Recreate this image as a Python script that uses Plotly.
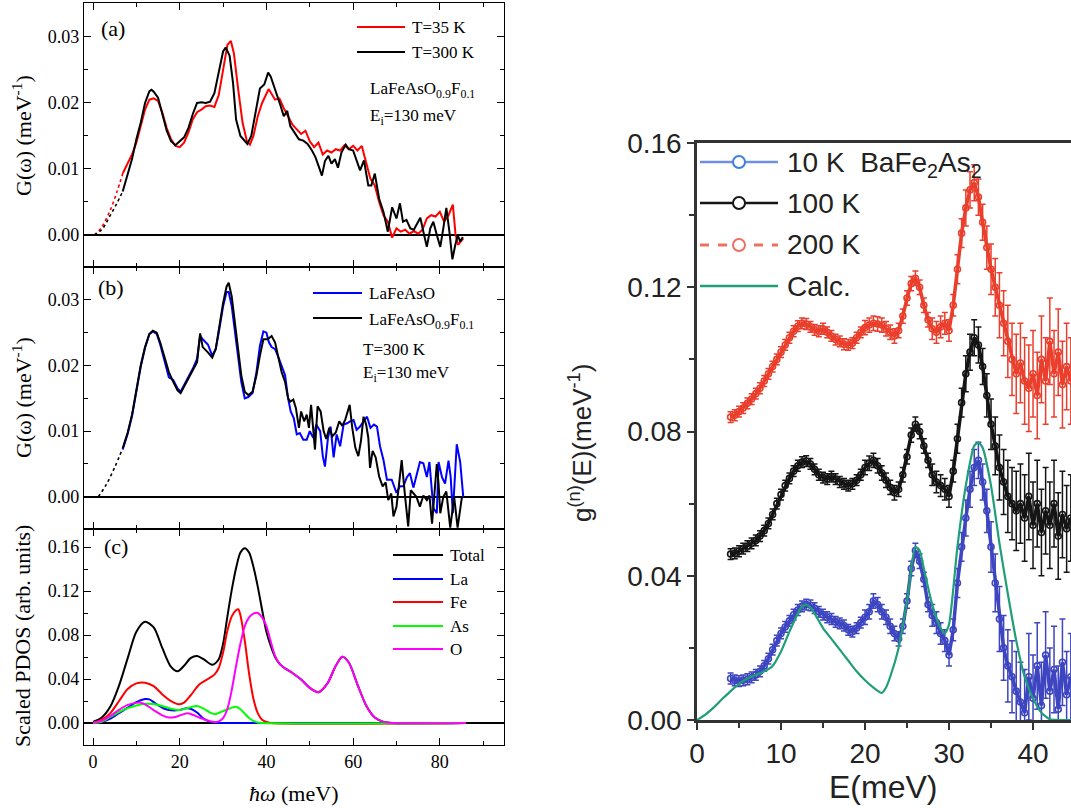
import plotly.graph_objects as go

W, H = 1071, 808
def px(x): return x / W
def py(y): return 1 - y / H

SERIF = "Liberation Serif, Times New Roman, serif"
SANS = "Liberation Sans, Arial, sans-serif"

# ---------------- Panel (a): LaFeAsO0.9F0.1, T=35 K vs T=300 K ----------------
A_35K = [(6.9, 0.0094), (8, 0.0110), (9, 0.0122), (10, 0.0140), (11, 0.0165), (12, 0.0190),
         (13, 0.0205), (14, 0.0207), (15, 0.0203), (16, 0.0185), (17, 0.0162), (18, 0.0145),
         (19, 0.0135), (20, 0.0133), (21, 0.0140), (22, 0.0155), (23, 0.0175), (24, 0.0186),
         (25, 0.0190), (26, 0.0195), (27, 0.0196), (28, 0.0194), (29, 0.0212), (30, 0.0250),
         (31, 0.0288), (31.8, 0.0294), (32.5, 0.0275), (33.5, 0.0220), (34.5, 0.0170),
         (35.5, 0.0142), (36.2, 0.0137), (37, 0.0150), (38, 0.0180), (39, 0.0200), (40, 0.0215),
         (40.5, 0.0221), (41, 0.0216), (42, 0.0205), (43, 0.0207), (44, 0.0192), (45, 0.0180),
         (46, 0.0167), (47, 0.0160), (48, 0.0153), (49, 0.0158), (50, 0.0142), (51, 0.0133),
         (52, 0.0140), (53, 0.0122), (54, 0.0128), (55, 0.0125), (56, 0.0130), (57, 0.0128),
         (58, 0.0136), (59, 0.0130), (60, 0.0135), (61, 0.0128), (62, 0.0135), (63, 0.0110),
         (64, 0.0085), (65, 0.0075), (66, 0.0050), (67, 0.0030), (68, 0.0020), (69, -0.0004),
         (70, 0.0010), (71, 0.0005), (72, 0.0008), (73, 0.0002), (74, 0.0006), (75, 0.0002),
         (76, 0.0008), (77, 0.0025), (78, 0.0030), (79, 0.0028), (80, 0.0035), (81, 0.0020),
         (82, 0.0030), (83, 0.0046), (83.6, 0.0002), (84.2, -0.0015), (85, -0.0008), (85.4, -0.0005)]
A_300K = [(6.85, 0.0066), (8, 0.0092), (9, 0.0115), (10, 0.0145), (11, 0.0170), (12, 0.0200),
          (13, 0.0218), (13.5, 0.0220), (14, 0.0217), (15, 0.0208), (16, 0.0185), (17, 0.0158),
          (18, 0.0142), (19, 0.0136), (20, 0.0142), (21, 0.0148), (22, 0.0162), (23, 0.0183),
          (24, 0.0200), (25, 0.0201), (26, 0.0200), (27, 0.0202), (28, 0.0215), (29, 0.0248),
          (30, 0.0278), (30.6, 0.0284), (31.5, 0.0272), (32.3, 0.0230), (33, 0.0175), (34, 0.0150),
          (35, 0.0142), (35.6, 0.0138), (36.5, 0.0150), (37.5, 0.0185), (38.5, 0.0222),
          (39.5, 0.0228), (40.4, 0.0246), (41, 0.0240), (41.8, 0.0225), (42.5, 0.0210),
          (43.3, 0.0195), (44, 0.0180), (44.8, 0.0188), (45.5, 0.0165), (46.5, 0.0155),
          (47.5, 0.0145), (48.5, 0.0143), (49.5, 0.0138), (50.5, 0.0128), (51.3, 0.0118),
          (52, 0.0105), (52.8, 0.0090), (53.5, 0.0112), (54.3, 0.0120), (55, 0.0108),
          (55.8, 0.0115), (56.5, 0.0102), (57.3, 0.0125), (58.3, 0.0137), (59, 0.0130),
          (60, 0.0128), (61, 0.0110), (61.6, 0.0098), (62.5, 0.0113), (63.5, 0.0075),
          (64.2, 0.0075), (65, 0.0093), (66, 0.0055), (67, 0.0035), (68, 0.0005), (69, 0.0042),
          (70, 0.0025), (70.8, 0.0048), (71.5, 0.0020), (72.3, 0.0023), (73.2, 0.0010),
          (74, 0.0008), (75, 0.0020), (75.5, 0.0026), (76.2, 0.0005), (77, -0.0018),
          (77.8, 0.0010), (78.5, 0.0020), (79.3, 0.0000), (80.1, -0.0018), (80.8, 0.0010),
          (81.5, 0.0041), (82.2, 0.0005), (82.9, -0.0037), (83.5, -0.0017), (84.1, 0.0000),
          (84.7, -0.0010), (85.3, -0.0003)]
A_35K_EXTRAP = [(0.3, 0.0), (2.0, 0.0012), (4.0, 0.0038), (5.5, 0.0065), (6.9, 0.0094)]
A_300K_EXTRAP = [(0.3, 0.0), (2.0, 0.0008), (4.0, 0.0030), (5.5, 0.0048), (6.85, 0.0066)]

# ---------------- Panel (b): LaFeAsO vs LaFeAsO0.9F0.1 at 300 K ----------------
B_PARENT = [(6.85, 0.0072), (8, 0.0096), (9, 0.0123), (10, 0.0163), (11, 0.0198), (12, 0.0227),
            (13, 0.0248), (13.8, 0.0252), (14.7, 0.0248), (15.5, 0.0232), (16.5, 0.0208),
            (17.5, 0.0182), (18.5, 0.0178), (19.5, 0.0165), (20.2, 0.0160), (21, 0.0170),
            (22, 0.0182), (23, 0.0195), (24, 0.0210), (24.7, 0.0245), (25.3, 0.0240),
            (26.5, 0.0232), (27.5, 0.0215), (28.3, 0.0225), (29, 0.0250), (30, 0.0290),
            (30.8, 0.0312), (31.3, 0.0312), (32, 0.0290), (32.8, 0.0245), (33.5, 0.0215),
            (34.2, 0.0175), (35, 0.0150), (35.8, 0.0152), (36.8, 0.0158), (37.7, 0.0190),
            (38.5, 0.0230), (39.3, 0.0252), (40, 0.0250), (40.6, 0.0235), (41.2, 0.0228),
            (42, 0.0225), (42.8, 0.0212), (43.5, 0.0200), (44.3, 0.0185), (45, 0.0150),
            (45.6, 0.0130), (46.3, 0.0120), (47, 0.0095), (47.7, 0.0097), (48.5, 0.0087),
            (49.3, 0.0087), (50, 0.0100), (50.8, 0.0090), (51.5, 0.0110), (52.4, 0.0100),
            (53, 0.0062), (53.5, 0.0046), (54.2, 0.0090), (54.8, 0.0107), (55.5, 0.0060),
            (56.2, 0.0095), (57, 0.0077), (57.8, 0.0110), (58.6, 0.0112), (59.3, 0.0115),
            (60.1, 0.0117), (60.8, 0.0102), (61.6, 0.0107), (62.4, 0.0115), (63.2, 0.0122),
            (64, 0.0105), (64.8, 0.0110), (65.5, 0.0107), (66.2, 0.0077), (67, 0.0056),
            (67.8, 0.0026), (68.9, 0.0026), (70, 0.0006), (70.8, 0.0016), (71.6, 0.0016),
            (72.4, 0.0030), (73.1, 0.0036), (73.9, 0.0014), (74.6, 0.0031), (75.4, 0.0053),
            (76.2, 0.0051), (77, 0.0030), (77.6, 0.0053), (78.5, -0.0017), (79.3, -0.0025),
            (79.7, 0.0053), (80.5, 0.0030), (81.2, 0.0020), (82, 0.0055), (82.5, 0.0030),
            (83, -0.0025), (83.9, 0.0080), (84.7, 0.0053), (85.4, 0.0000)]
B_DOPED = [(6.85, 0.0074), (8, 0.0098), (9, 0.0125), (10, 0.0165), (11, 0.0200), (12, 0.0228),
           (13, 0.0248), (13.8, 0.0253), (14.7, 0.0250), (15.5, 0.0235), (16.5, 0.0212),
           (17.5, 0.0190), (18.5, 0.0175), (19.5, 0.0162), (20.2, 0.0158), (21, 0.0168),
           (22, 0.0180), (23, 0.0192), (24, 0.0205), (24.7, 0.0249), (25.3, 0.0228),
           (26.5, 0.0220), (27.5, 0.0212), (28.3, 0.0225), (29, 0.0255), (30, 0.0295),
           (30.8, 0.0320), (31.3, 0.0326), (32, 0.0305), (32.8, 0.0260), (33.5, 0.0225),
           (34.2, 0.0185), (35, 0.0160), (35.8, 0.0155), (36.8, 0.0160), (37.7, 0.0185),
           (38.5, 0.0215), (39.3, 0.0240), (40.3, 0.0240), (41.2, 0.0245), (42, 0.0235),
           (42.8, 0.0210), (43.5, 0.0190), (44.3, 0.0175), (45, 0.0150), (45.5, 0.0145),
           (46.2, 0.0148), (46.8, 0.0135), (47.5, 0.0105), (48, 0.0130), (48.7, 0.0115),
           (49.3, 0.0125), (49.8, 0.0105), (50.3, 0.0140), (51.2, 0.0072), (51.8, 0.0138),
           (52.5, 0.0130), (53.2, 0.0100), (53.8, 0.0088), (54.5, 0.0105), (55.2, 0.0092),
           (56, 0.0098), (56.8, 0.0115), (57.5, 0.0108), (58.2, 0.0118), (59.2, 0.0140),
           (59.8, 0.0105), (60.5, 0.0075), (61.2, 0.0062), (61.8, 0.0085), (62.4, 0.0122),
           (63, 0.0110), (63.5, 0.0090), (63.9, 0.0044), (64.5, 0.0070), (65.2, 0.0060),
           (66, 0.0031), (66.8, 0.0016), (67.5, 0.0022), (68.1, -0.0005), (68.8, 0.0005),
           (69.3, -0.0030), (70, -0.0015), (70.6, 0.0020), (71.2, 0.0056), (71.9, 0.0006),
           (72.7, -0.0045), (73.3, 0.0010), (73.9, 0.0006), (74.6, 0.0000), (75.4, -0.0015),
           (76.2, 0.0002), (77, -0.0005), (77.6, 0.0002), (78.2, -0.0041), (78.8, 0.0006),
           (79.3, 0.0050), (79.7, 0.0020), (80.1, -0.0025), (80.8, 0.0000), (81.5, 0.0008),
           (82.4, -0.0047), (83.3, 0.0000), (84.1, -0.0047), (85.1, 0.0000)]
B_DOPED_EXTRAP = [(1.2, 0.0), (3.0, 0.0018), (5.0, 0.0045), (6.85, 0.0074)]

# ---------------- Panel (c): calculated partial DOS ----------------
C_TOTAL = [(0, 0.001), (2, 0.005), (4, 0.015), (6, 0.034), (8, 0.059), (10, 0.083), (12, 0.092),
           (14, 0.087), (16, 0.068), (18, 0.051), (19.5, 0.047), (21, 0.052), (22.5, 0.059),
           (24, 0.061), (25.5, 0.058), (27.5, 0.053), (29, 0.058), (30, 0.072), (31, 0.097),
           (32, 0.121), (33, 0.141), (34, 0.155), (35, 0.159), (36, 0.155), (37, 0.142),
           (38, 0.124), (39, 0.103), (40, 0.083), (41, 0.070), (42, 0.060), (43, 0.054),
           (44, 0.0505), (46, 0.0455), (48, 0.0395), (50, 0.032), (52, 0.028), (54, 0.0355),
           (56, 0.052), (57.5, 0.0603), (59, 0.055), (61, 0.035), (63, 0.016), (65, 0.005),
           (67, 0.001), (69, 0.0), (86, 0.0)]
C_LA = [(0, 0.0), (2, 0.001), (4, 0.004), (6, 0.009), (8, 0.014), (10, 0.019), (12, 0.0218),
        (13, 0.0215), (14.7, 0.017), (16.5, 0.013), (18, 0.0115), (20, 0.0118), (21.5, 0.0135),
        (22.5, 0.0130), (24, 0.0095), (25.5, 0.0040), (27, 0.0012), (28.5, 0.0002), (30, 0.0),
        (86, 0.0)]
C_FE = [(0, 0.0), (2, 0.003), (4, 0.009), (6, 0.020), (8, 0.031), (10, 0.036), (12, 0.0367),
        (14, 0.0335), (16, 0.026), (18, 0.020), (20, 0.017), (21, 0.0185), (22.5, 0.025),
        (24.5, 0.035), (26.5, 0.040), (28, 0.044), (29, 0.050), (30, 0.064), (31, 0.084),
        (32, 0.097), (33, 0.1025), (33.5, 0.1034), (34, 0.098), (35, 0.075), (36, 0.045),
        (37, 0.022), (38, 0.009), (39, 0.003), (40, 0.0009), (41, 0.0), (86, 0.0)]
C_AS = [(0, 0.0), (2, 0.001), (4, 0.0055), (6, 0.010), (8, 0.0135), (10, 0.016), (12, 0.0175),
        (14, 0.0172), (16, 0.0155), (18, 0.0130), (20, 0.0118), (22, 0.0138), (24, 0.0155),
        (25.5, 0.0130), (27, 0.0095), (28.2, 0.0082), (30, 0.0108), (32, 0.0140), (33, 0.0148),
        (34, 0.0125), (35, 0.0085), (36, 0.0045), (37, 0.0018), (38, 0.0005), (39, 0.0),
        (86, 0.0)]
C_O = [(0, 0.0), (2, 0.002), (4, 0.0065), (6, 0.012), (8, 0.0165), (10, 0.0183), (11, 0.0185),
       (12, 0.0170), (14, 0.0118), (16, 0.0070), (17.5, 0.0050), (19, 0.0055), (20.5, 0.0075),
       (21.8, 0.0088), (23, 0.0075), (24.5, 0.0050), (26, 0.0028), (28, 0.0010), (29, 0.0015),
       (30, 0.0045), (31, 0.0130), (32, 0.0300), (33, 0.0520), (34, 0.0720), (35, 0.0880),
       (36, 0.0960), (37, 0.0995), (38, 0.1000), (39, 0.0960), (40, 0.0880), (41, 0.0740),
       (42, 0.0610), (43, 0.0540), (44, 0.0505), (46, 0.0455), (48, 0.0395), (50, 0.0320),
       (52, 0.0280), (54, 0.0355), (56, 0.0520), (57.5, 0.0603), (59, 0.0550), (61, 0.0350),
       (63, 0.0160), (65, 0.0050), (67, 0.0010), (69, 0.0), (86, 0.0)]

# ---------------- Right panel: BaFe2As2 g(n)(E) ----------------
R_E = [4.0, 4.5, 5.0, 5.5, 6.0, 6.5, 7.0, 7.5, 8.0, 8.5,
       9.0, 9.5, 10.0, 10.5, 11.0, 11.5, 12.0, 12.5, 13.0, 13.5,
       14.0, 14.5, 15.0, 15.5, 16.0, 16.5, 17.0, 17.5, 18.0, 18.5,
       19.0, 19.5, 20.0, 20.5, 21.0, 21.5, 22.0, 22.5, 23.0, 23.5,
       24.0, 24.5, 25.0, 25.5, 26.0, 26.5, 27.0, 27.5, 28.0, 28.5,
       29.0, 29.5, 30.0, 30.5, 31.0, 31.5, 32.0, 32.5, 33.0, 33.5,
       34.0, 34.5, 35.0, 35.5, 36.0, 36.5, 37.0, 37.5, 38.0, 38.5,
       39.0, 39.5, 40.0, 40.5, 41.0, 41.5, 42.0, 42.5, 43.0, 43.5,
       44.0, 44.5]
R_10K = [0.0115, 0.0110, 0.0108, 0.0110, 0.0113, 0.0118, 0.0125, 0.0135, 0.0150, 0.0170,
         0.0195, 0.0220, 0.0240, 0.0258, 0.0275, 0.0292, 0.0305, 0.0315, 0.0320, 0.0318,
         0.0310, 0.0300, 0.0292, 0.0285, 0.0280, 0.0272, 0.0268, 0.0262, 0.0250, 0.0245,
         0.0255, 0.0270, 0.0285, 0.0300, 0.0330, 0.0320, 0.0300, 0.0285, 0.0260, 0.0240,
         0.0225, 0.0260, 0.0330, 0.0420, 0.0470, 0.0440, 0.0390, 0.0320, 0.0290, 0.0270,
         0.0240, 0.0220, 0.0180, 0.0250, 0.0380, 0.0480, 0.0560, 0.0640, 0.0700, 0.0720,
         0.0660, 0.0580, 0.0480, 0.0380, 0.0280, 0.0200, 0.0150, 0.0120, 0.0080, 0.0050,
         0.0020, 0.0120, 0.0060, 0.0150, 0.0040, 0.0180, 0.0080, 0.0140, 0.0030, 0.0160,
         0.0070, 0.0120]
R_100K = [0.0460, 0.0462, 0.0468, 0.0475, 0.0482, 0.0490, 0.0498, 0.0510, 0.0525, 0.0545,
          0.0570, 0.0600, 0.0625, 0.0650, 0.0670, 0.0690, 0.0705, 0.0715, 0.0718, 0.0710,
          0.0695, 0.0680, 0.0672, 0.0668, 0.0675, 0.0668, 0.0660, 0.0655, 0.0650, 0.0655,
          0.0665, 0.0680, 0.0700, 0.0712, 0.0720, 0.0705, 0.0685, 0.0665, 0.0645, 0.0630,
          0.0640, 0.0680, 0.0730, 0.0790, 0.0820, 0.0800, 0.0760, 0.0720, 0.0680, 0.0660,
          0.0650, 0.0640, 0.0620, 0.0690, 0.0780, 0.0880, 0.0960, 0.1020, 0.1060, 0.1040,
          0.0980, 0.0900, 0.0820, 0.0760, 0.0700, 0.0660, 0.0620, 0.0600, 0.0580, 0.0600,
          0.0560, 0.0620, 0.0540, 0.0600, 0.0520, 0.0580, 0.0540, 0.0600, 0.0510, 0.0570,
          0.0530, 0.0560]
R_200K = [0.0840, 0.0845, 0.0855, 0.0865, 0.0878, 0.0890, 0.0905, 0.0920, 0.0940, 0.0960,
          0.0980, 0.1000, 0.1020, 0.1040, 0.1060, 0.1078, 0.1092, 0.1100, 0.1098, 0.1090,
          0.1082, 0.1078, 0.1085, 0.1075, 0.1065, 0.1055, 0.1050, 0.1042, 0.1040, 0.1045,
          0.1060, 0.1075, 0.1088, 0.1095, 0.1100, 0.1098, 0.1095, 0.1085, 0.1075, 0.1065,
          0.1080, 0.1120, 0.1170, 0.1210, 0.1225, 0.1200, 0.1150, 0.1110, 0.1085, 0.1075,
          0.1090, 0.1100, 0.1080, 0.1150, 0.1250, 0.1350, 0.1420, 0.1470, 0.1490, 0.1450,
          0.1380, 0.1310, 0.1250, 0.1200, 0.1150, 0.1100, 0.1050, 0.1000, 0.0960, 0.0990,
          0.0940, 0.0920, 0.0960, 0.0900, 0.1000, 0.0940, 0.1050, 0.0960, 0.1020, 0.0930,
          0.0980, 0.0940]
R_ERR = [0.0015, 0.0015, 0.0015, 0.0015, 0.0015, 0.0015, 0.0015, 0.0015, 0.0015, 0.0015,
         0.0015, 0.0015, 0.0015, 0.0015, 0.0015, 0.0015, 0.0015, 0.0015, 0.0015, 0.0015,
         0.0015, 0.0015, 0.0015, 0.0015, 0.0015, 0.0015, 0.0015, 0.0015, 0.0015, 0.0015,
         0.0015, 0.0015, 0.002, 0.002, 0.002, 0.002, 0.002, 0.002, 0.002, 0.002,
         0.002, 0.002, 0.002, 0.002, 0.002, 0.002, 0.002, 0.002, 0.003, 0.003,
         0.003, 0.003, 0.003, 0.003, 0.004, 0.004, 0.005, 0.005, 0.005, 0.005,
         0.005, 0.006, 0.007, 0.008, 0.009, 0.009, 0.010, 0.010, 0.011, 0.011,
         0.012, 0.012, 0.012, 0.012, 0.012, 0.012, 0.012, 0.012, 0.012, 0.012,
         0.012, 0.012]
R_CALC = [(0, 0.0), (1, 0.0015), (2, 0.0035), (3, 0.0058), (4, 0.0080), (5, 0.0100), (6, 0.0115),
          (7, 0.0125), (8, 0.0135), (9, 0.0150), (10, 0.0190), (11, 0.0245), (12, 0.0295),
          (12.5, 0.0315), (13, 0.0320), (13.5, 0.0312), (14, 0.0295), (15, 0.0255), (16, 0.0225),
          (17, 0.0195), (18, 0.0165), (19, 0.0135), (20, 0.0110), (21, 0.0090), (22, 0.0075),
          (22.5, 0.0090), (23, 0.0120), (24, 0.0200), (25, 0.0330), (26, 0.0480), (26.5, 0.0470),
          (27, 0.0420), (28, 0.0320), (29, 0.0255), (29.5, 0.0240), (30, 0.0265), (31, 0.0480),
          (32, 0.0650), (33, 0.0760), (33.5, 0.0770), (34, 0.0755), (35, 0.0650), (36, 0.0490),
          (37, 0.0350), (38, 0.0220), (39, 0.0120), (40, 0.0060), (41, 0.0020), (42, 0.0002),
          (43, 0.0), (44.5, 0.0)]


def xs(pairs):
    return [p[0] for p in pairs]


def ys(pairs):
    return [p[1] for p in pairs]


fig = go.Figure()

# ---- panel (a)
fig.add_trace(go.Scatter(x=xs(A_35K_EXTRAP), y=ys(A_35K_EXTRAP), mode="lines", line=dict(color="#ff0000", width=1.6, dash="dot", shape="spline"), xaxis="x", yaxis="y"))
fig.add_trace(go.Scatter(x=xs(A_300K_EXTRAP), y=ys(A_300K_EXTRAP), mode="lines", line=dict(color="#000000", width=1.6, dash="dot", shape="spline"), xaxis="x", yaxis="y"))
fig.add_trace(go.Scatter(x=xs(A_35K), y=ys(A_35K), mode="lines", name="T=35 K", line=dict(color="#ff0000", width=2), xaxis="x", yaxis="y"))
fig.add_trace(go.Scatter(x=xs(A_300K), y=ys(A_300K), mode="lines", name="T=300 K", line=dict(color="#000000", width=2), xaxis="x", yaxis="y"))

# ---- panel (b)
fig.add_trace(go.Scatter(x=xs(B_DOPED_EXTRAP), y=ys(B_DOPED_EXTRAP), mode="lines", line=dict(color="#000000", width=1.6, dash="dot", shape="spline"), xaxis="x2", yaxis="y2"))
fig.add_trace(go.Scatter(x=xs(B_PARENT), y=ys(B_PARENT), mode="lines", name="LaFeAsO", line=dict(color="#0000ff", width=2), xaxis="x2", yaxis="y2"))
fig.add_trace(go.Scatter(x=xs(B_DOPED), y=ys(B_DOPED), mode="lines", name="LaFeAsO0.9F0.1", line=dict(color="#000000", width=2), xaxis="x2", yaxis="y2"))

# ---- panel (c)
C_SERIES = [("Total", C_TOTAL, "#000000"), ("La", C_LA, "#0000ff"), ("Fe", C_FE, "#ff0000"),
            ("As", C_AS, "#00ff00"), ("O", C_O, "#ff00ff")]
for name, data, col in C_SERIES:
    fig.add_trace(go.Scatter(x=xs(data), y=ys(data), mode="lines", name=name,
                             line=dict(color=col, width=2, shape="spline", smoothing=0.8),
                             xaxis="x3", yaxis="y3"))

# ---- right panel
RED, BLK, BLU, GRN = "#ea3f2c", "#151515", "#3d45c0", "#1f9e78"
for name, vals, col in [("10 K", R_10K, BLU), ("100 K", R_100K, BLK), ("200 K", R_200K, RED)]:
    fig.add_trace(go.Scatter(x=R_E, y=vals, mode="lines+markers", name=name,
                             line=dict(color=col, width=3.5),
                             marker=dict(symbol="circle-open", size=6, color=col, line=dict(width=1.6)),
                             error_y=dict(type="data", array=R_ERR, color=col, thickness=1.5, width=3),
                             xaxis="x4", yaxis="y4"))
fig.add_trace(go.Scatter(x=xs(R_CALC), y=ys(R_CALC), mode="lines", name="Calc.",
                         line=dict(color=GRN, width=2.2, shape="spline", smoothing=0.6),
                         xaxis="x4", yaxis="y4"))

# ---- axes
LX = [px(84), px(504)]
XR = [-2.08, 94.8]
def left_x(anchor, labels):
    return dict(domain=LX, range=XR, anchor=anchor, showline=True, linecolor="#000", linewidth=1.2,
                mirror="ticks", ticks="inside", ticklen=7, tickwidth=1.2, tickcolor="#000",
                tick0=0, dtick=20, minor=dict(ticks="inside", ticklen=4, dtick=10, tickwidth=1.2, tickcolor="#000"),
                showticklabels=labels, showgrid=False, zeroline=False, automargin=False,
                tickfont=dict(family=SERIF, size=18, color="#000"))

def left_y(anchor, dom, rng, dtick, mdtick):
    return dict(domain=dom, range=rng, anchor=anchor, showline=True, linecolor="#000", linewidth=1.2,
                mirror="ticks", ticks="inside", ticklen=7, tickwidth=1.2, tickcolor="#000",
                tick0=0, dtick=dtick, tickformat=".2f", automargin=False,
                minor=dict(ticks="inside", ticklen=4, dtick=mdtick, tickwidth=1.2, tickcolor="#000"),
                showgrid=False, zeroline=True, zerolinecolor="#000", zerolinewidth=1.6,
                tickfont=dict(family=SERIF, size=18, color="#000"))

fig.update_layout(
    width=W, height=H, margin=dict(l=0, r=0, t=0, b=0, pad=0, autoexpand=False),
    paper_bgcolor="white", plot_bgcolor="rgba(0,0,0,0)", showlegend=False,
    xaxis=left_x("y", False),
    xaxis2=left_x("y2", False),
    xaxis3=left_x("y3", True),
    yaxis=left_y("x", [py(267), py(3)], [-0.00485, 0.03515], 0.01, 0.005),
    yaxis2=left_y("x2", [py(529), py(267)], [-0.0049, 0.0350], 0.01, 0.005),
    yaxis3=left_y("x3", [py(745), py(529)], [-0.02, 0.1764], 0.04, 0.02),
    xaxis4=dict(domain=[px(697), 1.0], range=[0, 44.52], anchor="y4", showline=True, linecolor="#333",
                linewidth=2.5, mirror=True, ticks="outside", ticklen=7, tickwidth=2, tickcolor="#333",
                tick0=0, dtick=10, minor=dict(ticks="outside", ticklen=5, dtick=5, tickwidth=2, tickcolor="#333"),
                showgrid=False, zeroline=False, automargin=False,
                tickfont=dict(family=SANS, size=28, color="#222")),
    yaxis4=dict(domain=[py(720), py(143)], range=[0, 0.16], anchor="x4", showline=True, linecolor="#333",
                linewidth=2.5, ticks="outside", ticklen=7, tickwidth=2, tickcolor="#333",
                tick0=0, dtick=0.04, tickformat=".2f", automargin=False,
                minor=dict(ticks="outside", ticklen=5, dtick=0.02, tickwidth=2, tickcolor="#333"),
                showgrid=False, zeroline=False, tickfont=dict(family=SANS, size=28, color="#222")),
)

ann = []
shapes = []
def A(text, x, y, size, font=SERIF, xanchor="left", angle=0, color="#000"):
    ann.append(dict(text=text, x=px(x), y=py(y), xref="paper", yref="paper", showarrow=False,
                    xanchor=xanchor, yanchor="middle", textangle=angle,
                    font=dict(family=font, size=size, color=color)))

def legend_line(x0, x1, y, color, width=2, dash="solid"):
    shapes.append(dict(type="line", xref="paper", yref="paper", x0=px(x0), x1=px(x1), y0=py(y), y1=py(y),
                       line=dict(color=color, width=width, dash=dash)))

def legend_circle(xc, yc, r, color):
    shapes.append(dict(type="circle", xref="paper", yref="paper", x0=px(xc - r), x1=px(xc + r),
                       y0=py(yc + r), y1=py(yc - r), line=dict(color=color, width=2), fillcolor="white"))

# legend (a)
legend_line(357, 405, 27, "#ff0000"); A("T=35 K", 410, 27, 17)
legend_line(357, 405, 52, "#000000"); A("T=300 K", 410, 52, 17)
# legend (b)
legend_line(313, 362, 293, "#0000ff"); A("LaFeAsO", 367, 293, 17)
legend_line(313, 362, 318, "#000000"); A("LaFeAsO<sub>0.9</sub>F<sub>0.1</sub>", 367, 321, 17)
# legend (c)
for (name, _, col), yy in zip(C_SERIES, [555, 579, 602, 626, 649]):
    legend_line(393, 443, yy, col)
    A(name, 448, yy, 17)
# legend right panel
legend_line(700, 778, 162, "#6f8fe0", 2.5); legend_circle(739, 162, 6, "#3d7fe0")
A("10 K  BaFe<sub>2</sub>As<sub>2</sub>", 785, 165, 28, font=SANS, color="#222")
legend_line(700, 778, 203, BLK, 2.5); legend_circle(739, 203, 6, BLK)
A("100 K", 785, 203, 28, font=SANS, color="#222")
legend_line(700, 778, 245, "#f07060", 3, "dash"); legend_circle(739, 245, 6, "#f07060")
A("200 K", 785, 245, 28, font=SANS, color="#222")
legend_line(700, 778, 286, GRN, 2.5)
A("Calc.", 785, 286, 28, font=SANS, color="#222")

A("(a)", 99, 28, 22)
A("(b)", 96, 287, 22)
A("(c)", 102, 546, 22)
A("LaFeAsO<sub>0.9</sub>F<sub>0.1</sub>", 368, 90, 17)
A("E<sub>i</sub>=130 meV", 368, 117, 17)
A("T=300 K", 361, 350, 17)
A("E<sub>i</sub>=130 meV", 361, 374, 17)
A("G(ω) (meV<sup>-1</sup>)", 22, 136, 22, xanchor="center", angle=-90)
A("G(ω) (meV<sup>-1</sup>)", 22, 398, 22, xanchor="center", angle=-90)
A("Scaled PDOS (arb. units)", 22, 636, 22, xanchor="center", angle=-90)
A("<i>ħω</i> (meV)", 293, 793, 22, xanchor="center")
A("g<sup>(n)</sup>(E)(meV<sup>-1</sup>)", 580, 443, 26, font=SANS, xanchor="center", angle=-90, color="#222")
A("E(meV)", 883, 787, 32, font=SANS, xanchor="center", color="#222")
fig.update_layout(annotations=ann, shapes=shapes)

fig.write_html("out.html", config={"displayModeBar": False},
               post_script="document.body.style.margin='0px';document.body.style.overflow='hidden';")
